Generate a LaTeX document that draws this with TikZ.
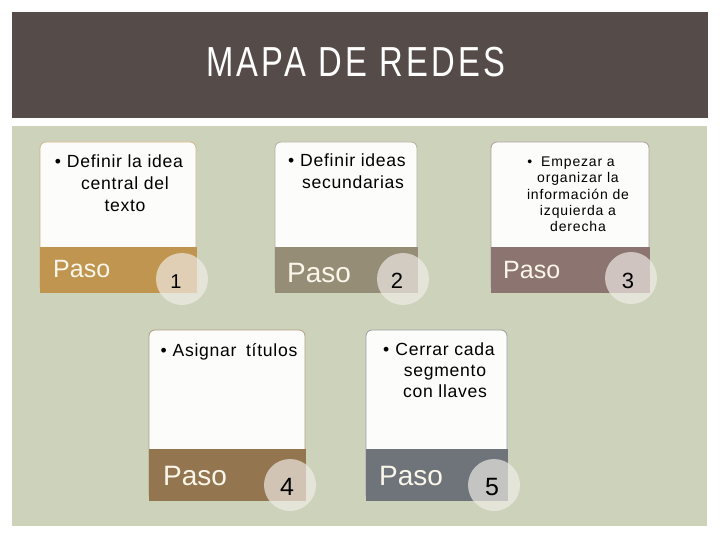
\documentclass[tikz,border=0pt]{standalone}
\usepackage{fontspec}
\setmainfont{Liberation Sans}
\definecolor{titlebg}{HTML}{554C49}
\definecolor{panel}{HTML}{CDD2BB}
\definecolor{bandA}{HTML}{BF9550}
\definecolor{bandB}{HTML}{958D76}
\definecolor{bandC}{HTML}{8C7570}
\definecolor{bandD}{HTML}{93754F}
\definecolor{bandE}{HTML}{6E7479}
\definecolor{pasotext}{HTML}{FBF6EA}
\definecolor{card}{HTML}{FCFCFA}
\definecolor{disc}{HTML}{F2EEEA}
\begin{document}
\begin{tikzpicture}[x=1pt,y=-1pt,
  cardbox/.style={draw=#1, fill=card, line width=0.8pt, rounded corners=6pt},
  bandbox/.style={draw=#1, fill=#1, line width=0.8pt},
  cardtext/.style={align=center, anchor=north, inner sep=0pt, text=black,
    font=\fontsize{17.6}{22}\selectfont\addfontfeature{LetterSpace=4}},
  smalltext/.style={align=center, anchor=north, inner sep=0pt, text=black,
    font=\fontsize{14}{16.3}\selectfont\addfontfeature{LetterSpace=6}},
  pasolabel/.style={anchor=base west, inner sep=0pt, text=pasotext},
  stepdisc/.style={circle, fill=disc, fill opacity=0.66, minimum size=52pt, inner sep=0pt},
  stepnum/.style={anchor=base, inner sep=0pt, text=black}]
\useasboundingbox (0,0) rectangle (720,540);
\fill[white] (0,0) rectangle (720,540);
% title bar
\fill[titlebg] (12,12) rectangle (708,118);
\node[text=white, font=\fontsize{42}{46}\selectfont] (title) at (356,62)
  {\scalebox{0.78}[1]{\addfontfeature{LetterSpace=10}MAPA DE REDES}};
% panel
\fill[panel] (12,126) rectangle (707,526);

% card 1
\draw[cardbox=bandA!70!white] (40,142) rectangle (196,292);
\draw[bandbox=bandA] (40,247) rectangle (196,292);
\node[cardtext] (t1) at (125,155) {\llap{•\hspace{6pt}}Definir la idea\\central del\\texto};
\node[pasolabel, font=\fontsize{25}{28}\selectfont] (p1) at (53,277) {Paso};
\node[stepdisc] (c1) at (182,279) {};
\node[stepnum, font=\fontsize{20}{24}\selectfont] (n1) at (176,288) {1};

% card 2
\draw[cardbox=bandB!70!white] (275,142) rectangle (417,292);
\draw[bandbox=bandB] (275,247) rectangle (417,292);
\node[cardtext] (t2) at (353,154) {\llap{•\hspace{6pt}}Definir ideas\\secundarias};
\node[pasolabel, font=\fontsize{28}{32}\selectfont] (p2) at (287,282) {Paso};
\node[stepdisc] (c2) at (403,279) {};
\node[stepnum, font=\fontsize{22}{26}\selectfont] (n2) at (397,288) {2};

% card 3
\draw[cardbox=bandC!70!white] (491,142) rectangle (649,292);
\draw[bandbox=bandC] (491,247) rectangle (649,292);
\node[smalltext] (t3) at (578,156.6) {\llap{•\hspace{9pt}}Empezar a\\organizar la\\información de\\izquierda a\\derecha};
\node[pasolabel, font=\fontsize{25}{28}\selectfont] (p3) at (503,278) {Paso};
\node[stepdisc] (c3) at (631,278) {};
\node[stepnum, font=\fontsize{22}{26}\selectfont] (n3) at (628,288) {3};

% card 4
\draw[cardbox=bandD!70!white] (149,330) rectangle (305,500);
\draw[bandbox=bandD] (149,449) rectangle (305,500);
\node[cardtext] (t4) at (235,343) {\llap{•\hspace{6pt}}Asignar\hspace{4pt} títulos};
\node[pasolabel, font=\fontsize{28}{32}\selectfont] (p4) at (163,485) {Paso};
\node[stepdisc] (c4) at (290,485) {};
\node[stepnum, font=\fontsize{25}{28}\selectfont] (n4) at (287,495) {4};

% card 5
\draw[cardbox=bandE!70!white] (366,330) rectangle (507,500);
\draw[bandbox=bandE] (366,449) rectangle (507,500);
\node[cardtext, font=\fontsize{17.6}{21}\selectfont\addfontfeature{LetterSpace=4}] (t5) at (445,343) {\llap{•\hspace{6pt}}Cerrar cada\\segmento\\con llaves};
\node[pasolabel, font=\fontsize{28}{32}\selectfont] (p5) at (379,485) {Paso};
\node[stepdisc] (c5) at (494,485) {};
\node[stepnum, font=\fontsize{25}{28}\selectfont] (n5) at (492,495) {5};
\end{tikzpicture}
\end{document}
